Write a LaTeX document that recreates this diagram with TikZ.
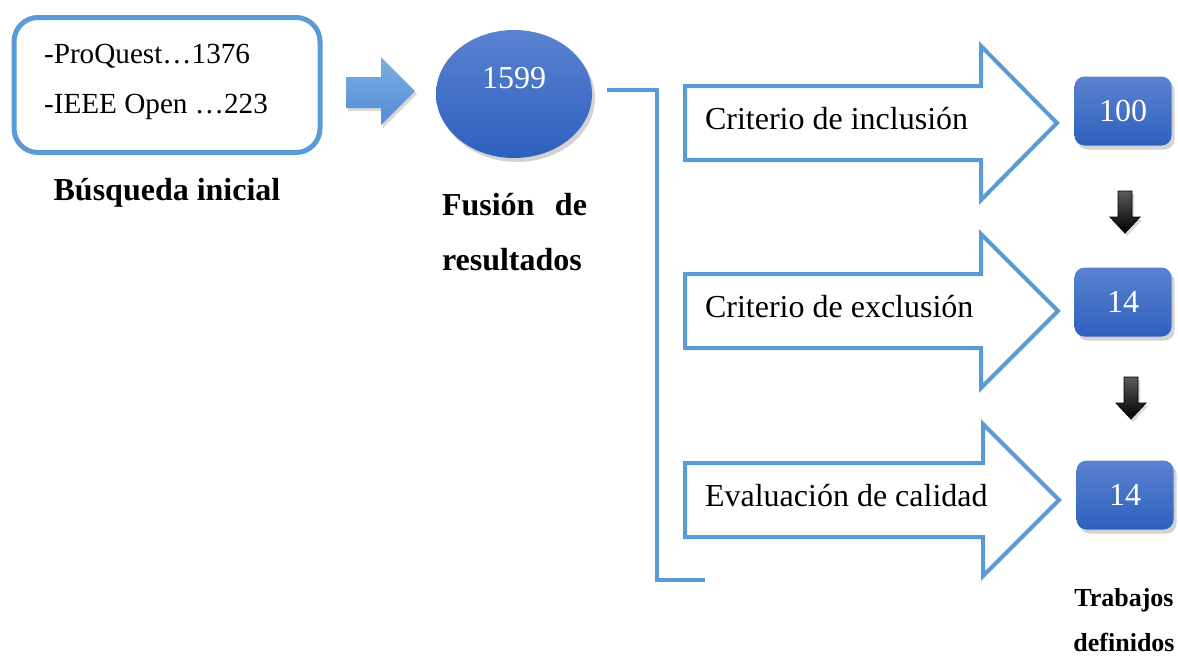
\documentclass[tikz,border=0pt]{standalone}
\usepackage{fontspec}
\setmainfont{Liberation Serif}
\usepackage{tikz}
\usetikzlibrary{shapes.geometric,shadows}
\definecolor{azulclaro}{RGB}{91,155,213}
\definecolor{azularriba}{RGB}{90,130,208}
\definecolor{azulabajo}{RGB}{46,96,190}

\begin{document}
\begin{tikzpicture}[x=0.5pt,y=-0.5pt,font=\fontsize{16}{19}\selectfont]
 \tikzstyle{linea}=[draw=azulclaro,line width=2pt]
 \tikzstyle{relleno}=[top color=azularriba,bottom color=azulabajo,text=white,
   drop shadow={opacity=0.35,shadow xshift=1.5pt,shadow yshift=-2pt}]
 \tikzstyle{titulo}=[font=\fontsize{16}{27.5}\selectfont\bfseries]
 \tikzstyle{paso}=[anchor=west]
 \tikzstyle{bajada}=[top color=black!65,bottom color=black,
   drop shadow={opacity=0.3,shadow xshift=1pt,shadow yshift=-1.5pt}]

   \useasboundingbox (0,0) rectangle (1178,655);

   % busqueda inicial
   \node[draw=azulclaro,line width=2.5pt,rounded corners=12pt,minimum width=153pt,minimum height=67.5pt] (busqueda) at (167,85) {};
   \node[anchor=west,align=left,font=\fontsize{14.6}{25}\selectfont] (fuentes) at (37,82) {-ProQuest…1376\\-IEEE Open …223};
   \node[titulo] (busquedalbl) at (167,193) {Búsqueda inicial};
   \draw[top color=azulclaro!80!white,bottom color=azulclaro!90!blue,draw=none,
     drop shadow={opacity=0.3,shadow xshift=1pt,shadow yshift=-1.5pt}]
     (346,77) -- (381,77) -- (381,57) -- (415,91) -- (381,125) -- (381,108) -- (346,108) -- cycle;

   % fusion
   \node[ellipse,relleno,minimum width=78pt,minimum height=64pt,inner sep=0pt] (fusion) at (514,94) {};
   \node[text=white] (n1599) at (514,78) {1599};
   \node[titulo,text width=72.5pt,align=left,inner sep=0pt] (fusionlbl) at (514.5,232) {Fusión\hfill de\\resultados};

   \coordinate (esquina) at (657,580);
   \coordinate (cierre) at (705,580);
   \draw[linea] ([xshift=7.5pt,yshift=2pt]fusion.east) -| (esquina) -- (cierre);

   % criterios
   \draw[linea,fill=white] (685,86) -- (981,86) -- (981,46) -- (1057,123) -- (981,200) -- (981,160) -- (685,160) -- cycle;
   \draw[linea,fill=white] (685,274) -- (981,274) -- (981,234) -- (1058,311) -- (981,388) -- (981,348) -- (685,348) -- cycle;
   \draw[linea,fill=white] (685,463) -- (983,463) -- (983,424) -- (1059,500) -- (983,576) -- (983,537) -- (685,537) -- cycle;
   \node[paso] (inclusion) at (698,119) {Criterio de inclusión};
   \node[paso] (exclusion) at (698,307) {Criterio de exclusión};
   \node[paso] (calidad) at (698,496) {Evaluación de calidad};

   % resultados
   \node[relleno,rounded corners=5pt,minimum width=48.5pt,minimum height=34.5pt] (r100) at (1123,111) {100};
   \node[relleno,rounded corners=5pt,minimum width=48.5pt,minimum height=34.5pt] (r14a) at (1123,302) {14};
   \node[relleno,rounded corners=5pt,minimum width=48.5pt,minimum height=34.5pt] (r14b) at (1125,495) {14};
   \draw[bajada] (1118,191) -- (1132,191) -- (1132,217) -- (1140,217) -- (1125,233) -- (1110,217) -- (1118,217) -- cycle;
   \draw[bajada] (1124,377) -- (1138,377) -- (1138,403) -- (1146,403) -- (1131,419) -- (1116,403) -- (1124,403) -- cycle;
   \node[font=\fontsize{13}{22.5}\selectfont\bfseries,align=center] (trabajos) at (1124,620) {Trabajos\\definidos};

\end{tikzpicture}
\end{document}
